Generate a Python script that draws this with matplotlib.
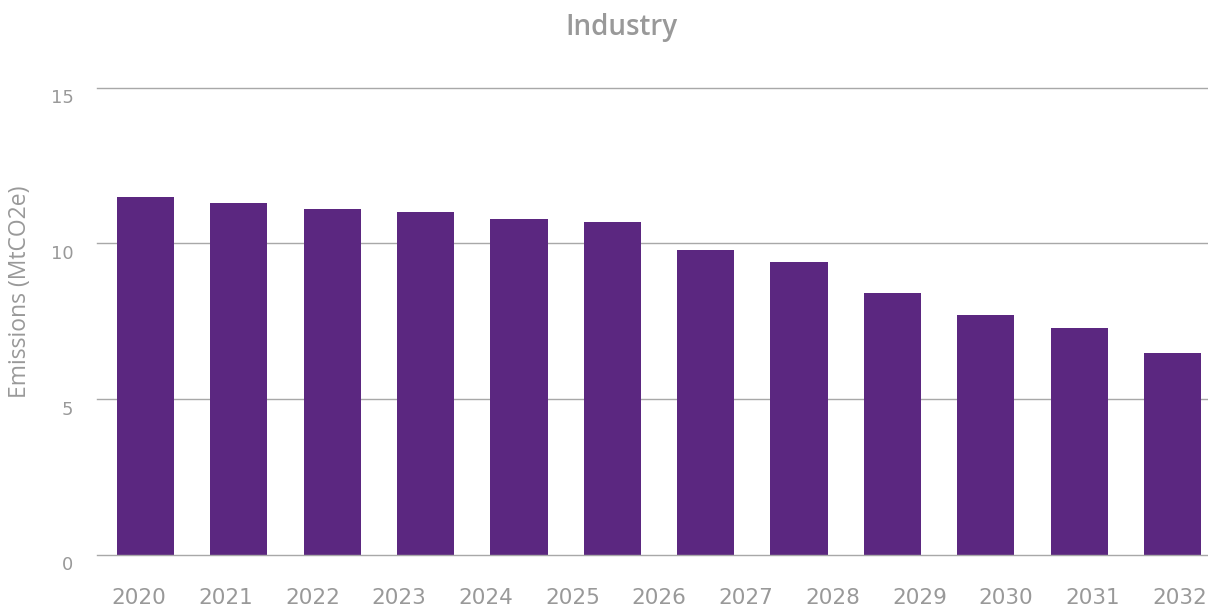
import matplotlib
matplotlib.use("Agg")
import matplotlib.pyplot as plt
import matplotlib.transforms as mtransforms
import numpy as np

# ---- data ----
bar_years = [2020, 2021, 2022, 2023, 2024, 2025, 2026, 2027, 2028, 2029, 2030, 2031]
emissions = [11.5, 11.3, 11.1, 11.0, 10.78, 10.69, 9.79, 9.4, 8.41, 7.7, 7.28, 6.48]
tick_labels = ["2020", "2021", "2022", "2023", "2024", "2025", "2026",
               "2027", "2028", "2029", "2030", "2031", "2032"]
y_ticks = [0, 5, 10, 15]

title = "Industry"
ylabel = "Emissions (MtCO2e)"

# ---- figure ----
W, H = 1208, 606
fig = plt.figure(figsize=(W / 100, H / 100), dpi=100)

ax_left_px, ax_right_px = 97, 1208
ax_top_px, ax_bottom_px = 87.5, 555
ax = fig.add_axes([ax_left_px / W, 1 - ax_bottom_px / H,
                   (ax_right_px - ax_left_px) / W, (ax_bottom_px - ax_top_px) / H])

bar_color = "#5b2780"
grey = "#999999"
grid_color = "#a8a8a8"

x = np.arange(len(bar_years))
ax.bar(x, emissions, width=0.612, color=bar_color, zorder=3)

# category band width ~93.36 px, first bar centre 145.5 px
band = 93.36
x0 = (ax_left_px - 145.5) / band
x1 = (ax_right_px - 145.5) / band
ax.set_xlim(x0, x1)
ax.set_ylim(0, 15)

# x tick labels (evenly spread, independent of bars)
tick_pos = np.linspace((139 - 145.5) / band, (1179.5 - 145.5) / band, len(tick_labels))
ax.set_xticks(tick_pos)
ax.set_xticklabels(tick_labels, fontsize=15.5, color=grey, family="DejaVu Sans")
ax.tick_params(axis="x", length=0, pad=24)

ax.set_yticks(y_ticks)
ax.set_yticklabels([str(v) for v in y_ticks], fontsize=13, color=grey, family="DejaVu Sans")
ax.tick_params(axis="y", length=0, pad=17)
offset = mtransforms.ScaledTranslation(0, -8.5 / 100, fig.dpi_scale_trans)
for lab in ax.get_yticklabels():
    lab.set_transform(lab.get_transform() + offset)

ax.grid(axis="x", visible=False)
for yv in y_ticks:
    ax.axhline(yv, color=grid_color, linewidth=1, zorder=2 if yv > 0 else 4, clip_on=False)
for s in ax.spines.values():
    s.set_visible(False)
ax.set_facecolor("white")

fig.text(621 / W, 1 - 27 / H, title, ha="center", va="center",
         fontsize=20, color=grey, family="Open Sans", fontweight="semibold")
fig.text(20 / W, 1 - 291.5 / H, ylabel, ha="center", va="center", rotation=90,
         fontsize=16.5, color=grey, family="Open Sans")

fig.savefig("out.png", dpi=100, facecolor="white")
